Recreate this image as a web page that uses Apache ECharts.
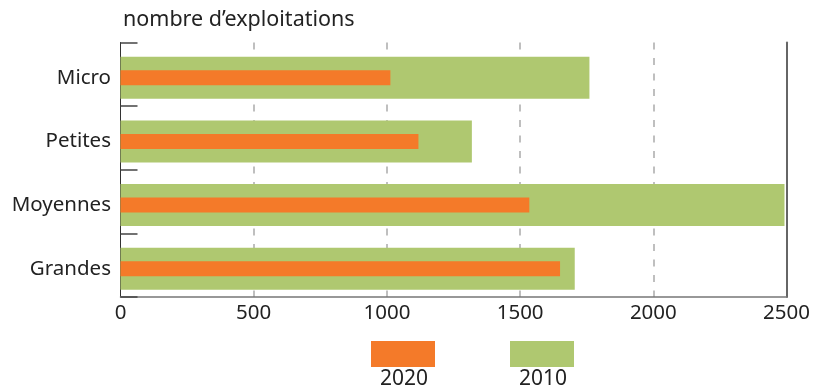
<!DOCTYPE html>
<html>
<head>
<meta charset="utf-8">
<script src="https://cdn.jsdelivr.net/npm/echarts@6/dist/echarts.min.js"></script>
<style>html,body{margin:0;padding:0;background:#fff}#c{width:813px;height:389px}</style>
</head>
<body>
<div id="c"></div>
<script>
const categories = ['Micro', 'Petites', 'Moyennes', 'Grandes'];
const seriesNames = ['2020', '2010'];
const values2020 = [1010, 1115, 1530, 1645];
const values2010 = [1755, 1315, 2485, 1700];
const xTicks = [0, 500, 1000, 1500, 2000, 2500];
const axisTitle = 'nombre d\u2019exploitations';

const FONT = '"Noto Sans", sans-serif';
const TXT = '#222';
const ORANGE = '#F47A29';
const GREEN = '#AFC870';

const chart = echarts.init(document.getElementById('c'), null, {renderer: 'canvas'});
chart.setOption({
  animation: false,
  textStyle: {fontFamily: FONT},
  title: {
    text: axisTitle, left: 123, top: 9, padding: 0,
    textStyle: {fontFamily: FONT, fontSize: 21.5, fontWeight: 'normal', color: TXT}
  },
  legend: {
    data: seriesNames, left: 371, top: 341, padding: 0,
    itemWidth: 64, itemHeight: 26, itemGap: 75, icon: 'rect',
    formatter: () => '', selectedMode: false
  },
  graphic: [
    {type: 'text', left: 403 - 23, top: 369, style: {text: seriesNames[0], font: '21px ' + FONT, fill: TXT}},
    {type: 'text', left: 542 - 23, top: 369, style: {text: seriesNames[1], font: '21px ' + FONT, fill: TXT}}
  ],
  grid: [
    {left: 120.5, right: 24.5, top: 42.5, height: 254.5},
    {left: 120.5, right: 24.5, top: 46, height: 254.5}
  ],
  xAxis: [
    {
      gridIndex: 0, type: 'value', min: xTicks[0], max: xTicks[xTicks.length - 1], interval: 500,
      axisLine: {show: true, lineStyle: {color: '#777', width: 1.5}},
      axisTick: {show: false},
      axisLabel: {margin: 6, fontSize: 20.5, color: TXT, fontFamily: FONT,
        formatter: v => String(v)},
      splitLine: {show: true, showMinLine: false, showMaxLine: false,
        lineStyle: {color: '#aaa', width: 1.5, type: [7, 8.5]}}
    },
    {gridIndex: 1, type: 'value', min: xTicks[0], max: xTicks[xTicks.length - 1], show: false}
  ],
  yAxis: [
    {
      gridIndex: 0, type: 'category', data: categories, inverse: true,
      axisLine: {show: true, lineStyle: {color: '#333', width: 1}},
      axisTick: {show: true, inside: true, length: 17, lineStyle: {color: '#444', width: 1.5}},
      axisLabel: {show: false}
    },
    {
      gridIndex: 0, type: 'category', data: categories, inverse: true, position: 'right',
      axisLine: {show: true, lineStyle: {color: '#666', width: 2}},
      axisTick: {show: false}, axisLabel: {show: false}
    },
    {
      gridIndex: 1, type: 'category', data: categories, inverse: true,
      axisLine: {show: false}, axisTick: {show: false},
      axisLabel: {margin: 9.5, fontSize: 20.5, color: TXT, fontFamily: FONT}
    },
    {gridIndex: 1, type: 'category', data: categories, inverse: true, show: false}
  ],
  series: [
    {
      name: seriesNames[1], type: 'bar', xAxisIndex: 1, yAxisIndex: 2,
      data: values2010, barWidth: 42, itemStyle: {color: GREEN}, z: 2
    },
    {
      name: seriesNames[0], type: 'bar', xAxisIndex: 1, yAxisIndex: 3,
      data: values2020, barWidth: 15, itemStyle: {color: ORANGE}, z: 3
    }
  ]
});
</script>
</body>
</html>
